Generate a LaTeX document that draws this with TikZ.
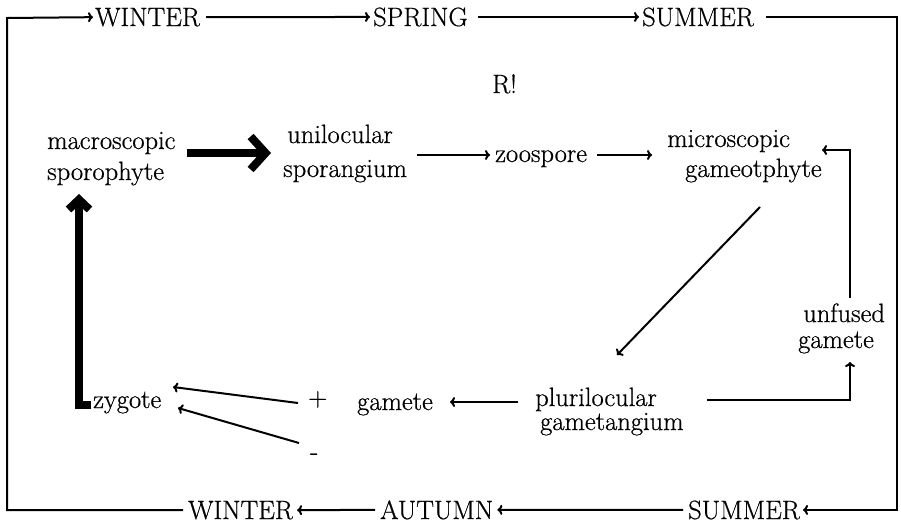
\documentclass[tikz,border=0pt]{standalone}
\usepackage{fontspec}
\setmainfont{Latin Modern Roman}[FakeBold=0.6]
\usetikzlibrary{arrows.meta}
\begin{document}
\begin{tikzpicture}[x=1pt,y=-1pt,
  lbl/.style={anchor=base west, inner sep=0pt, font=\fontsize{26.5}{31}\selectfont},
  conn/.style={line width=2pt, line join=miter, -{To[length=5pt,width=10pt]}},
  heavy/.style={line width=8pt, line join=miter, -{Straight Barb[length=15pt,width=33pt]}},
  heavyup/.style={line width=8pt, line join=miter, -{Straight Barb[length=10pt,width=21pt]}}]
\useasboundingbox[fill=white] (0,0) rectangle (901,523);
% labels
\node[lbl] (w1) at (95,26) {WINTER};
\node[lbl] (sp) at (373,26) {SPRING};
\node[lbl] (su1) at (642,26) {SUMMER};
\node[lbl] (r) at (492,93) {R!};
\node[lbl] (ma1) at (47,149) {macroscopic};
\node[lbl] (ma2) at (47,180) {sporophyte};
\node[lbl] (un1) at (287,143) {unilocular};
\node[lbl] (un2) at (283,177) {sporangium};
\node[lbl] (zo) at (495,162) {zoospore};
\node[lbl] (mi1) at (667,147) {microscopic};
\node[lbl] (mi2) at (685,177) {gameotphyte};
\node[lbl] (uf1) at (803,322) {unfused};
\node[lbl] (uf2) at (798,348) {gamete};
\node[lbl] (pl1) at (535,406) {plurilocular};
\node[lbl] (pl2) at (540,430) {gametangium};
\node[lbl] (ga) at (357,410) {gamete};
\node[lbl] (zy) at (93,408) {zygote};
\node[lbl] (plus) at (308,406) {+};
\node[lbl] (minus) at (310,460) {-};
\node[lbl] (w2) at (188,519) {WINTER};
\node[lbl] (au) at (380,519) {AUTUMN};
\node[lbl] (su2) at (688,519) {SUMMER};
% corner / junction coordinates
\coordinate (tl) at (7,18);
\coordinate (rx) at (897,300);
\coordinate (ta1) at (187,153);
\coordinate (ta2) at (271,153);
\coordinate (ua) at (417,155);
\coordinate (zb) at (490,155);
\coordinate (za) at (597,155);
\coordinate (mb) at (652,155);
\coordinate (ufa) at (850,298);
\coordinate (ufc) at (850,150);
\coordinate (mib) at (822,150);
\coordinate (mia) at (760,207);
\coordinate (plb) at (617,355);
\coordinate (pla) at (707,400);
\coordinate (plc) at (850,400);
\coordinate (ufb) at (850,362);
\coordinate (plg) at (518,402);
\coordinate (gab) at (450,402);
\coordinate (pa) at (298,403);
\coordinate (zya) at (173,387);
\coordinate (mna) at (299,443);
\coordinate (zyb) at (178,408);
\coordinate (zf) at (91,405);
\coordinate (zc) at (79,405);
\coordinate (mab) at (79,194);
% outer seasonal loop
\draw[conn] ([xshift=-5pt]w2.west) -| (tl) -- ([xshift=-2pt]w1.west);
\draw[conn] ([xshift=6pt]w1.east) -- ([xshift=-3pt]sp.west);
\draw[conn] ([xshift=10pt]sp.east) -- ([xshift=-3pt]su1.west);
\draw[conn] ([xshift=12pt]su1.east) -| (rx) |- ([xshift=3pt]su2.east);
\draw[conn] ([xshift=-5pt]su2.west) -- ([xshift=4pt]au.east);
\draw[conn] ([xshift=-5pt]au.west) -- ([xshift=4pt]w2.east);
% life cycle
\draw[heavy] (ta1) -- (ta2);
\draw[conn] (ua) -- (zb);
\draw[conn] (za) -- (mb);
\draw[conn] (ufa) -- (ufc) -- (mib);
\draw[conn] (mia) -- (plb);
\draw[conn] (pla) -- (plc) -- (ufb);
\draw[conn] (plg) -- (gab);
\draw[conn] (pa) -- (zya);
\draw[conn] (mna) -- (zyb);
\draw[heavyup] (zf) -- (zc) -- (mab);
\end{tikzpicture}
\end{document}
